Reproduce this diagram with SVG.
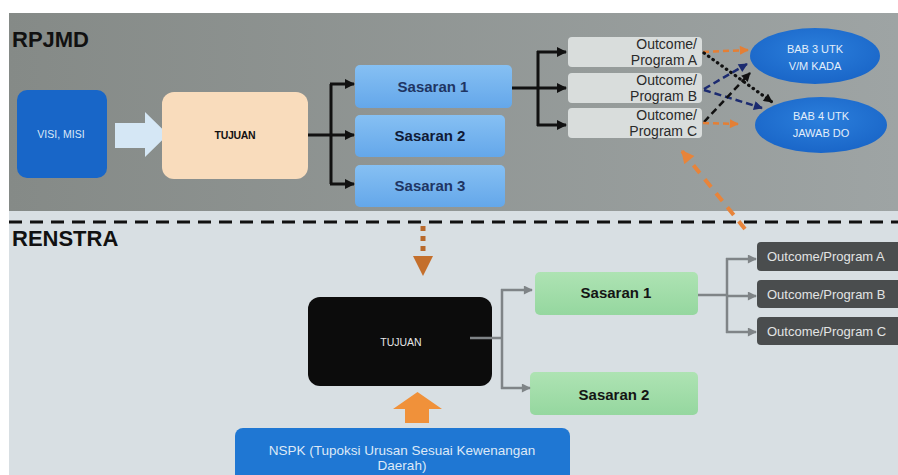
<svg xmlns="http://www.w3.org/2000/svg" width="898" height="475" viewBox="0 0 898 475">
<defs>
<linearGradient id="gBand" x1="0" y1="0" x2="1" y2="0">
<stop offset="0" stop-color="#858a87"/><stop offset="1" stop-color="#9ea4a4"/>
</linearGradient>
<linearGradient id="gSas" x1="0" y1="0" x2="0" y2="1">
<stop offset="0" stop-color="#86c0f3"/><stop offset="1" stop-color="#64a7ea"/>
</linearGradient>
<linearGradient id="gGreen" x1="0" y1="0" x2="0" y2="1">
<stop offset="0" stop-color="#aee3b3"/><stop offset="1" stop-color="#95d79f"/>
</linearGradient>
<radialGradient id="gEll" cx="0.5" cy="0.4" r="0.6">
<stop offset="0" stop-color="#2b7fdc"/><stop offset="1" stop-color="#1a66c8"/>
</radialGradient>
<marker id="mBlk" viewBox="0 0 10 10" refX="9" refY="5" markerUnits="userSpaceOnUse" markerWidth="11" markerHeight="10" orient="auto"><path d="M0,0 L10,5 L0,10 z" fill="#111"/></marker>
<marker id="mGray" viewBox="0 0 10 10" refX="9" refY="5" markerUnits="userSpaceOnUse" markerWidth="10" markerHeight="9" orient="auto"><path d="M0,0 L10,5 L0,10 z" fill="#7f8487"/></marker>
<marker id="mOr" viewBox="0 0 10 10" refX="9" refY="5" markerUnits="userSpaceOnUse" markerWidth="10" markerHeight="9" orient="auto"><path d="M0,0 L10,5 L0,10 z" fill="#e47f35"/></marker>
<marker id="mNavy" viewBox="0 0 10 10" refX="9" refY="5" markerUnits="userSpaceOnUse" markerWidth="10" markerHeight="9" orient="auto"><path d="M0,0 L10,5 L0,10 z" fill="#1c2b70"/></marker>
<marker id="mBlkS" viewBox="0 0 10 10" refX="9" refY="5" markerUnits="userSpaceOnUse" markerWidth="10" markerHeight="9" orient="auto"><path d="M0,0 L10,5 L0,10 z" fill="#111"/></marker>
<marker id="mOrBig" viewBox="0 0 10 10" refX="9" refY="5" markerUnits="userSpaceOnUse" markerWidth="14" markerHeight="13" orient="auto"><path d="M0,0 L10,5 L0,10 z" fill="#e8843a"/></marker>
</defs>
<style>
text{font-family:"Liberation Sans",Arial,Helvetica,sans-serif}
.title{font-size:22px;font-weight:bold;fill:#111}
.sas{font-size:15px;font-weight:bold;fill:#1f3563}
.sasG{font-size:15px;font-weight:bold;fill:#151515}
.oc{font-size:14px;fill:#2a2a2a}
.ocD{font-size:13px;fill:#e2e4e4}
.ell{font-size:11px;fill:#e3eefa}
.br{stroke:#111;stroke-width:3;fill:none}
.brG{stroke:#7f8487;stroke-width:2.5;fill:none}
</style>
<rect x="0" y="0" width="898" height="475" fill="#ffffff"/>
<rect x="9" y="13" width="889" height="198" fill="url(#gBand)"/>
<rect x="9" y="211" width="889" height="264" fill="#d8dfe3"/>
<line x1="9" y1="222" x2="898" y2="222" stroke="#111" stroke-width="3" stroke-dasharray="13 8"/>
<text class="title" x="12" y="47">RPJMD</text>
<text class="title" x="12" y="246">RENSTRA</text>

<g id="visi-misi">
<rect x="17" y="90" width="90" height="88" rx="10" fill="#1866c8"/>
<text x="61" y="138" text-anchor="middle" font-size="10.5" fill="#dbe8f7">VISI, MISI</text>
</g>
<g id="block-arrow-1">
<polygon points="115,123 145,123 145,112 168,134.5 145,157 145,148 115,148" fill="#d5e7f5"/>
</g>
<g id="tujuan-rpjmd">
<rect x="162" y="92" width="146" height="87" rx="12" fill="#f9dcbc"/>
<text x="235" y="139" text-anchor="middle" font-size="10.5" font-weight="bold" fill="#111" letter-spacing="-0.3">TUJUAN</text>
</g>
<g id="sasaran-1">
<rect x="355" y="65" width="157" height="43" rx="5" fill="url(#gSas)"/>
<text class="sas" x="433" y="92" text-anchor="middle">Sasaran 1</text>
</g>
<g id="sasaran-2">
<rect x="355" y="115" width="150" height="42" rx="5" fill="url(#gSas)"/>
<text class="sas" x="430" y="141" text-anchor="middle" style="fill:#101a36">Sasaran 2</text>
</g>
<g id="sasaran-3">
<rect x="355" y="165" width="150" height="42" rx="5" fill="url(#gSas)"/>
<text class="sas" x="430" y="191" text-anchor="middle">Sasaran 3</text>
</g>
<g id="outcome-a">
<rect x="568" y="37" width="134" height="30" rx="4" fill="#d9dddc"/>
<text class="oc" x="697" y="49" text-anchor="end">Outcome/</text>
<text class="oc" x="697" y="65" text-anchor="end">Program A</text>
</g>
<g id="outcome-b">
<rect x="568" y="73" width="134" height="30" rx="4" fill="#d9dddc"/>
<text class="oc" x="697" y="85" text-anchor="end">Outcome/</text>
<text class="oc" x="697" y="101" text-anchor="end">Program B</text>
</g>
<g id="outcome-c">
<rect x="568" y="108" width="134" height="30" rx="4" fill="#d9dddc"/>
<text class="oc" x="697" y="120" text-anchor="end">Outcome/</text>
<text class="oc" x="697" y="136" text-anchor="end">Program C</text>
</g>
<g id="bab3">
<ellipse cx="815" cy="56" rx="65" ry="28" fill="url(#gEll)"/>
<text class="ell" x="815" y="53" text-anchor="middle">BAB 3 UTK</text>
<text class="ell" x="815" y="70" text-anchor="middle">V/M KADA</text>
</g>
<g id="bab4">
<ellipse cx="821" cy="125" rx="66" ry="28" fill="url(#gEll)"/>
<text class="ell" x="821" y="120" text-anchor="middle">BAB 4 UTK</text>
<text class="ell" x="821" y="137" text-anchor="middle">JAWAB DO</text>
</g>

<g id="tujuan-renstra">
<rect x="308" y="297" width="184" height="89" rx="12" fill="#0c0c0c"/>
<text x="401" y="346" text-anchor="middle" font-size="10.5" fill="#e6e6e6">TUJUAN</text>
</g>
<g id="sasaran-1-renstra">
<rect x="535" y="272" width="163" height="43" rx="5" fill="url(#gGreen)"/>
<text class="sasG" x="616" y="298" text-anchor="middle">Sasaran 1</text>
</g>
<g id="sasaran-2-renstra">
<rect x="530" y="372" width="168" height="43" rx="5" fill="url(#gGreen)"/>
<text class="sasG" x="614" y="400" text-anchor="middle">Sasaran 2</text>
</g>
<g id="outcome-a-renstra">
<rect x="757" y="242" width="150" height="29" rx="4" fill="#4a4d4e"/>
<text class="ocD" x="767" y="261">Outcome/Program A</text>
</g>
<g id="outcome-b-renstra">
<rect x="757" y="280" width="150" height="28" rx="4" fill="#4a4d4e"/>
<text class="ocD" x="767" y="299">Outcome/Program B</text>
</g>
<g id="outcome-c-renstra">
<rect x="757" y="317" width="150" height="28" rx="4" fill="#4a4d4e"/>
<text class="ocD" x="767" y="336">Outcome/Program C</text>
</g>
<g id="nspk">
<rect x="235" y="428" width="335" height="60" rx="8" fill="#1f77d3"/>
<text x="402" y="455" text-anchor="middle" font-size="13.5" fill="#dde9f7">NSPK (Tupoksi Urusan Sesuai Kewenangan</text>
<text x="402" y="470" text-anchor="middle" font-size="13.5" fill="#dde9f7">Daerah)</text>
</g>
<g id="block-arrow-2">
<polygon points="405,423 405,409 393,409 417.5,392 442,409 429,409 429,423" fill="#f0913a"/>
</g>

<g id="connectors">
<path class="br" d="M308,135 H331 M331,84 V184"/>
<path class="br" d="M330,84 H354" marker-end="url(#mBlk)"/>
<path class="br" d="M330,135 H354" marker-end="url(#mBlk)"/>
<path class="br" d="M330,184 H354" marker-end="url(#mBlk)"/>
<path class="br" d="M512,88 H538 M538,51 V126"/>
<path class="br" d="M537,52 H566" marker-end="url(#mBlk)"/>
<path class="br" d="M537,88 H566" marker-end="url(#mBlk)"/>
<path class="br" d="M537,125 H566" marker-end="url(#mBlk)"/>

<path d="M703,52 L748,50" stroke="#e47f35" stroke-width="2.5" stroke-dasharray="6 4" fill="none" marker-end="url(#mOr)"/>
<path d="M704,53 L772,102" stroke="#111" stroke-width="3.2" stroke-dasharray="0.5 5" stroke-linecap="round" fill="none" marker-end="url(#mBlkS)"/>
<path d="M704,89 L747,64" stroke="#1c2b70" stroke-width="2.5" stroke-dasharray="7 4" fill="none" marker-end="url(#mNavy)"/>
<path d="M704,90 L762,108" stroke="#1c2b70" stroke-width="2.5" stroke-dasharray="7 4" fill="none" marker-end="url(#mNavy)"/>
<path d="M704,122 L750,73" stroke="#111" stroke-width="2.5" stroke-dasharray="7 4" fill="none" marker-end="url(#mBlkS)"/>
<path d="M703,123 L738,124" stroke="#e47f35" stroke-width="2.5" stroke-dasharray="6 4" fill="none" marker-end="url(#mOr)"/>
<path d="M745,229 L682,151" stroke="#e8843a" stroke-width="4" stroke-dasharray="10 8" fill="none" marker-end="url(#mOrBig)"/>

<path d="M423,226 V256" stroke="#b8692b" stroke-width="5" stroke-dasharray="5 5" fill="none"/>
<polygon points="413,256 433,256 423,276" fill="#c46f2c"/>

<path class="brG" d="M470,338 H502 M502,289 V389"/>
<path class="brG" d="M501,290 H532" marker-end="url(#mGray)"/>
<path class="brG" d="M501,388 H530" marker-end="url(#mGray)"/>
<path class="brG" d="M698,295 H727 M727,258 V333"/>
<path class="brG" d="M726,259 H756" marker-end="url(#mGray)"/>
<path class="brG" d="M726,296 H756" marker-end="url(#mGray)"/>
<path class="brG" d="M726,332 H756" marker-end="url(#mGray)"/>
</g>
</svg>
